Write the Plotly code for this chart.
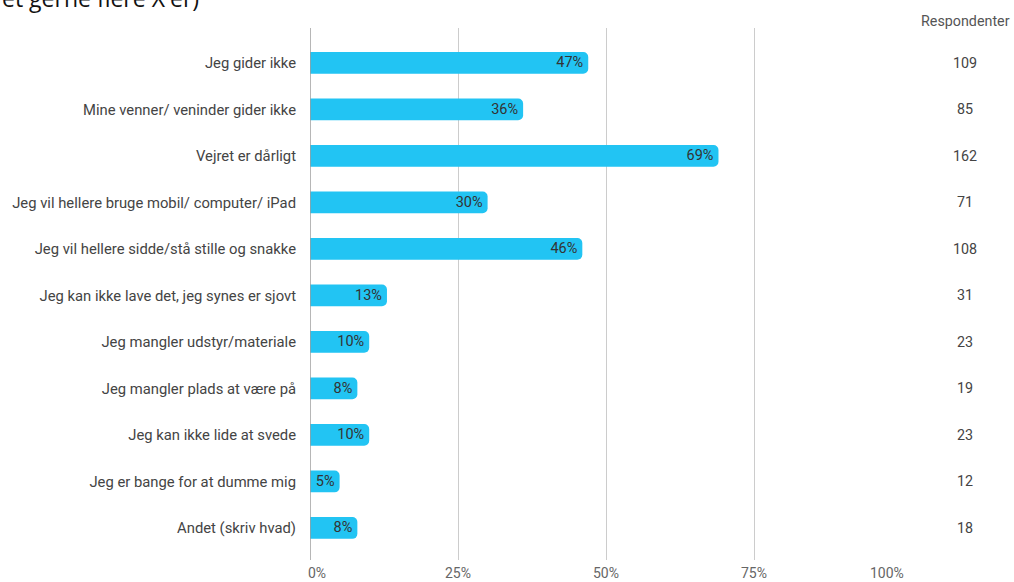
import plotly.graph_objects as go

categories = [
    "Jeg gider ikke",
    "Mine venner/ veninder gider ikke",
    "Vejret er dårligt",
    "Jeg vil hellere bruge mobil/ computer/ iPad",
    "Jeg vil hellere sidde/stå stille og snakke",
    "Jeg kan ikke lave det, jeg synes er sjovt",
    "Jeg mangler udstyr/materiale",
    "Jeg mangler plads at være på",
    "Jeg kan ikke lide at svede",
    "Jeg er bange for at dumme mig",
    "Andet (skriv hvad)",
]
percent = [47, 36, 69, 30, 46, 13, 10, 8, 10, 5, 8]
respondents = [109, 85, 162, 71, 108, 31, 23, 19, 23, 12, 18]
tick_vals = [0, 25, 50, 75, 100]
tick_text = ["0%", "25%", "50%", "75%", "100%"]
title_text = "et gerne flere X'er)"
column_header = "Respondenter"

W, H = 1014, 582
ML, MR, MT, MB = 310, 112, 28, 22
plot_w = W - ML - MR
plot_h = H - MT - MB

fig = go.Figure()
fig.add_trace(go.Bar(
    y=list(range(len(categories))),
    x=percent,
    orientation="h",
    marker=dict(color="#22c4f3", line=dict(width=0)),
    text=[f"{v}%" for v in percent],
    textposition="inside",
    insidetextanchor="end",
    textfont=dict(family="Roboto", size=14.5, color="#333333"),
    width=0.47,
    hoverinfo="skip",
))

fig.update_layout(
    width=W, height=H,
    margin=dict(l=ML, r=MR, t=MT, b=MB, pad=0),
    plot_bgcolor="white", paper_bgcolor="white",
    showlegend=False,
    barcornerradius=5,
    uniformtext=dict(minsize=14, mode="show"),
    font=dict(family="Roboto", size=14.5, color="#444444"),
)
fig.update_xaxes(
    range=[0, 100], tickvals=tick_vals, showticklabels=False,
    showgrid=True, gridcolor="#cccccc", gridwidth=1,
    zeroline=False, showline=False, fixedrange=True,
)
fig.update_yaxes(
    range=[10.69, -0.75],
    tickvals=list(range(len(categories))), ticktext=categories,
    tickfont=dict(family="Roboto", size=14.8, color="#444444"),
    ticks="", ticklen=0, ticklabelstandoff=13,
    showgrid=False, zeroline=False, showline=False,
    automargin=False,
)
# zero line darker
fig.add_shape(type="line", xref="x", yref="paper", x0=0, x1=0, y0=0, y1=1,
              line=dict(color="#9e9e9e", width=1.5))

# tick labels
shifts = [7, 0, 0, 0, -15]
for v, t, s in zip(tick_vals, tick_text, shifts):
    fig.add_annotation(x=v, y=0, xref="x", yref="paper", text=t, showarrow=False,
                       xanchor="center", yanchor="top", yshift=-3, xshift=s,
                       font=dict(family="Roboto", size=14, color="#666666"))

# respondents column
col_x = (965 - ML) / plot_w
fig.add_annotation(x=col_x, y=1, xref="paper", yref="paper", text=column_header,
                   showarrow=False, xanchor="center", yanchor="middle", yshift=7,
                   font=dict(family="Roboto", size=14.3, color="#555555"))
for i, r in enumerate(respondents):
    fig.add_annotation(x=col_x, y=i, xref="paper", yref="y", text=str(r),
                       showarrow=False, xanchor="center", yanchor="middle",
                       font=dict(family="Roboto", size=14.3, color="#444444"))

# cropped title at top
fig.add_annotation(x=-ML / plot_w, y=1 + 30 / plot_h, xref="paper", yref="paper",
                   text=title_text, showarrow=False, xanchor="left", yanchor="middle",
                   font=dict(family="Open Sans", size=23, color="#111111"))

fig.write_html("out.html")
